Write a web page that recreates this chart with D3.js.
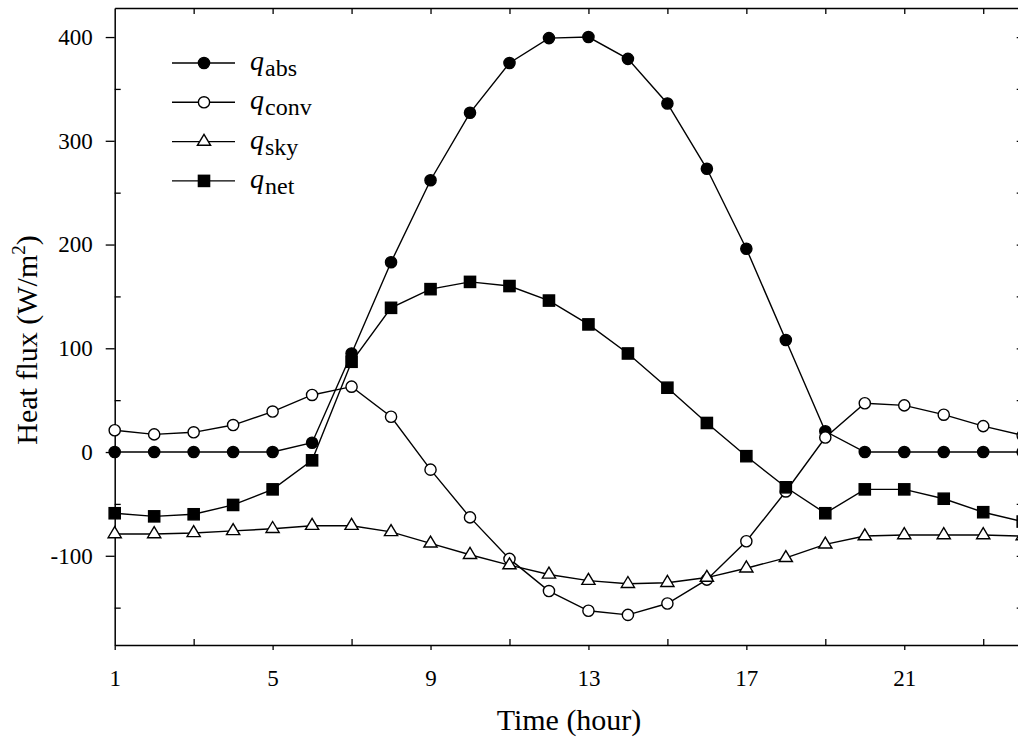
<!DOCTYPE html>
<html>
<head>
<meta charset="utf-8">
<script src="https://cdn.jsdelivr.net/npm/d3@7"></script>
<style>
  html, body { margin: 0; padding: 0; background: #fff; }
  svg { display: block; overflow: hidden; }
  text, tspan { font-family: "Liberation Serif", "Times New Roman", serif; fill: #000; }
</style>
</head>
<body>
<svg id="chart" width="1018" height="740"></svg>
<script>
// Hourly surface heat-flux components (W/m²)
const hours = d3.range(1, 25);
const qAbs  = [0, 0, 0, 0, 0, 9, 95, 183, 262, 327, 375, 399, 400, 379, 336, 273, 196, 108, 20, 0, 0, 0, 0, 0];
const qConv = [21, 17, 19, 26, 39, 55, 63, 34, -17, -63, -103, -134, -153, -157, -146, -123, -86, -38, 14, 47, 45, 36, 25, 16];
const qSky  = [-79, -79, -78, -76, -74, -71, -71, -77, -88, -99, -109, -118, -124, -127, -126, -121, -112, -102, -89, -81, -80, -80, -80, -81];
const qNet  = [-59, -62, -60, -51, -36, -8, 87, 139, 157, 164, 160, 146, 123, 95, 62, 28, -4, -34, -59, -36, -36, -45, -58, -67];

const xMajorTicks = [1, 5, 9, 13, 17, 21];
const xMinorTicks = [3, 7, 11, 15, 19, 23];
const xTopTicks   = [3, 5, 7, 9, 11, 13, 15, 17, 19, 21, 23];
const yMajorTicks = [-100, 0, 100, 200, 300, 400];
const yMinorTicks = [-150, -50, 50, 150, 250, 350];
const yRightTicks = [-150, -100, -50, 0, 50, 100, 150, 200, 250, 300, 350, 400];

const seriesList = [
  { name: "abs",  values: qAbs,  marker: "circle",   fill: "#000" },
  { name: "conv", values: qConv, marker: "circle",   fill: "#fff" },
  { name: "sky",  values: qSky,  marker: "triangle", fill: "#fff" },
  { name: "net",  values: qNet,  marker: "square",   fill: "#000" }
];

const serif = "'Liberation Serif', 'Times New Roman', serif";
const svg = d3.select("#chart");
const x = d3.scaleLinear().domain([1, 24]).range([114.7, 1022.7]);
const y = d3.scaleLinear().domain([-186, 428]).range([645, 8]);

const tickFont = "23px";
const plainNum = d => String(d); // hyphen-minus, as plotted

// frame + axes
function styleAxis(g, keepDomain) {
  g.attr("font-family", serif).attr("font-size", null);
  g.selectAll(".tick line").attr("stroke", "#000").attr("stroke-width", 1.3);
  if (!keepDomain) g.select(".domain").remove();
  else g.select(".domain").attr("stroke", "#000").attr("stroke-width", 1.5);
  g.selectAll("text").style("font-size", tickFont).style("font-family", serif).attr("fill", "#000");
}

svg.append("g").attr("transform", `translate(${x.range()[0]},0)`)
  .call(d3.axisLeft(y).tickValues(yMajorTicks).tickSize(9).tickPadding(13).tickSizeOuter(0).tickFormat(plainNum))
  .call(g => styleAxis(g, true));
svg.append("g").attr("transform", `translate(${x.range()[0]},0)`)
  .call(d3.axisLeft(y).tickValues(yMinorTicks).tickSize(-6).tickFormat(""))
  .call(g => styleAxis(g, false));

svg.append("g").attr("transform", `translate(0,${y.range()[0]})`)
  .call(d3.axisBottom(x).tickValues(xMajorTicks).tickSize(5).tickPadding(20).tickSizeOuter(0).tickFormat(plainNum))
  .call(g => styleAxis(g, true));
svg.append("g").attr("transform", `translate(0,${y.range()[0]})`)
  .call(d3.axisBottom(x).tickValues(xMinorTicks).tickSize(-6).tickFormat(""))
  .call(g => styleAxis(g, false));

svg.append("g").attr("transform", `translate(0,${y.range()[1]})`)
  .call(d3.axisTop(x).tickValues(xTopTicks).tickSize(-6).tickSizeOuter(0).tickFormat(""))
  .call(g => styleAxis(g, true));
svg.append("g").attr("transform", `translate(${x.range()[1]},0)`)
  .call(d3.axisRight(y).tickValues(yRightTicks).tickSize(-6).tickSizeOuter(0).tickFormat(""))
  .call(g => styleAxis(g, true));

// axis titles
const yTitle = svg.append("text")
  .attr("transform", "translate(37,340) rotate(-90)")
  .attr("text-anchor", "middle")
  .style("font-size", "30px").style("font-family", serif);
yTitle.append("tspan").text("Heat flux (W/m");
yTitle.append("tspan").text("2").style("font-size", "19px").attr("dy", "-12");
yTitle.append("tspan").text(")").attr("dy", "12");

svg.append("text")
  .attr("x", 569).attr("y", 730)
  .attr("text-anchor", "middle")
  .style("font-size", "30px").style("font-family", serif)
  .text("Time (hour)");

// markers
const triPath = "M0,-7.3L6.6,3.7L-6.6,3.7Z";
function drawMarker(sel, kind, fill) {
  if (kind === "circle") {
    sel.append("circle").attr("r", 5.6);
  } else if (kind === "square") {
    sel.append("rect").attr("x", -5.6).attr("y", -5.6).attr("width", 11.2).attr("height", 11.2);
  } else {
    sel.append("path").attr("d", triPath);
  }
  sel.selectAll("circle,rect,path")
    .attr("fill", fill).attr("stroke", "#000").attr("stroke-width", 1.4);
}

const line = d3.line().x((d, i) => x(hours[i])).y(d => y(d));

seriesList.forEach(s => {
  const g = svg.append("g").attr("class", "series-" + s.name);
  g.append("path")
    .attr("d", line(s.values))
    .attr("fill", "none").attr("stroke", "#000").attr("stroke-width", 1.4);
  g.selectAll("g.pt").data(s.values).join("g")
    .attr("class", "pt")
    .attr("transform", (d, i) => `translate(${x(hours[i])},${y(d)})`)
    .each(function () { drawMarker(d3.select(this), s.marker, s.fill); });
});

// legend
const legend = svg.append("g").attr("transform", "translate(172,63)");
seriesList.forEach((s, i) => {
  const row = legend.append("g").attr("transform", `translate(0,${i * 39.3})`);
  row.append("line").attr("x1", 0).attr("x2", 63).attr("y1", 0).attr("y2", 0)
    .attr("stroke", "#000").attr("stroke-width", 1.4);
  const m = row.append("g").attr("transform", "translate(32,0)");
  drawMarker(m, s.marker, s.fill);
  const t = row.append("text").attr("x", 78).attr("y", 7)
    .style("font-size", "28px").style("font-family", serif);
  t.append("tspan").text("q").style("font-style", "italic");
  t.append("tspan").text(s.name).style("font-size", "24px").attr("dy", 6).attr("dx", 1);
});
</script>
</body>
</html>
